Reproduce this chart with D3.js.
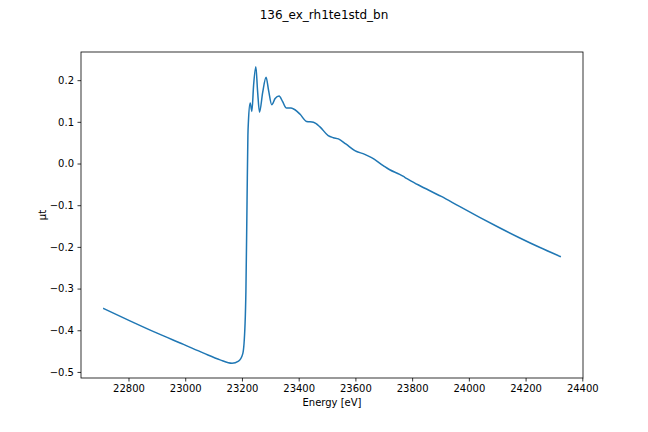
<!DOCTYPE html>
<html>
<head>
<meta charset="utf-8">
<script src="https://cdn.jsdelivr.net/npm/d3@7"></script>
<style>
  body { margin: 0; background: #fff; }
  text { font-family: "DejaVu Sans", sans-serif; }
</style>
</head>
<body>
<div class="visHolder"></div>
<script>
// energy in eV, mu*t
const energy = [22713, 22807, 22901, 22994, 23065, 23123, 23165, 23188, 23203, 23211,
  23214, 23218, 23221, 23223, 23229, 23235, 23241, 23249, 23255, 23262,
  23273, 23285, 23294, 23305, 23317, 23331, 23343, 23357, 23373, 23387,
  23405, 23428, 23452, 23475, 23504, 23522, 23540, 23566, 23598, 23633,
  23657, 23698, 23721, 23756, 23774, 23821, 23903, 23967, 24038, 24108,
  24178, 24249, 24322];
const mut = [-0.348, -0.378, -0.407, -0.434, -0.455, -0.471, -0.479, -0.474, -0.456, -0.384,
  -0.305, -0.089, 0.067, 0.103, 0.145, 0.125, 0.187, 0.232, 0.175, 0.123,
  0.170, 0.207, 0.175, 0.141, 0.156, 0.162, 0.149, 0.133, 0.133, 0.129,
  0.118, 0.101, 0.099, 0.088, 0.067, 0.062, 0.059, 0.047, 0.031, 0.022,
  0.014, -0.005, -0.015, -0.026, -0.033, -0.051, -0.079, -0.103, -0.129, -0.154,
  -0.178, -0.201, -0.223];
const xTicks = [22800, 23000, 23200, 23400, 23600, 23800, 24000, 24200, 24400];
const yTicks = [-0.5, -0.4, -0.3, -0.2, -0.1, 0.0, 0.1, 0.2];
const title = "136_ex_rh1te1std_bn";

const W = 648, H = 432;
const mLeft = 81, mRight = 583, mTop = 52, mBottom = 378;

const svg = d3.select(".visHolder")
  .append("svg")
  .attr("width", W)
  .attr("height", H);

const data = energy.map((e, i) => [e, mut[i]]);

// matplotlib style 5% margins
const xPad = (d3.max(energy) - d3.min(energy)) * 0.05;
const yPad = (d3.max(mut) - d3.min(mut)) * 0.05;
const x = d3.scaleLinear()
  .domain([d3.min(energy) - xPad, d3.max(energy) + xPad])
  .range([mLeft, mRight]);
const y = d3.scaleLinear()
  .domain([d3.min(mut) - yPad, d3.max(mut) + yPad])
  .range([mBottom, mTop]);

const xAxis = d3.axisBottom(x).tickValues(xTicks).tickSize(3.5).tickPadding(3.5)
  .tickFormat(d3.format("d"));
const yAxis = d3.axisLeft(y).tickValues(yTicks).tickSize(3.5).tickPadding(3.5)
  .tickFormat(d => d3.format(".1f")(d).replace("-", "\u2212"));

svg.append("g")
  .attr("transform", "translate(0," + mBottom + ")")
  .call(xAxis)
  .call(g => g.select(".domain").remove());

svg.append("g")
  .attr("transform", "translate(" + mLeft + ",0)")
  .call(yAxis)
  .call(g => g.select(".domain").remove());

svg.selectAll(".tick text")
  .attr("font-size", 10)
  .attr("font-family", "DejaVu Sans, sans-serif")
  .attr("fill", "#000");
svg.selectAll(".tick line").attr("stroke", "#000").attr("stroke-width", 0.8);

const line = d3.line()
  .x(d => x(d[0]))
  .y(d => y(d[1]))
  .curve(d3.curveMonotoneX);

svg.append("path")
  .datum(data)
  .attr("d", line)
  .attr("fill", "none")
  .attr("stroke", "#1f77b4")
  .attr("stroke-width", 1.5)
  .attr("stroke-linejoin", "round")
  .attr("stroke-linecap", "square");

// frame
svg.append("rect")
  .attr("x", mLeft)
  .attr("y", mTop)
  .attr("width", mRight - mLeft)
  .attr("height", mBottom - mTop)
  .attr("fill", "none")
  .attr("stroke", "#000")
  .attr("stroke-width", 0.8);

svg.append("text")
  .attr("x", (mLeft + mRight) / 2)
  .attr("y", 406)
  .attr("text-anchor", "middle")
  .attr("font-size", 10)
  .text("Energy [eV]");

svg.append("text")
  .attr("transform", "translate(46," + ((mTop + mBottom) / 2) + ") rotate(-90)")
  .attr("text-anchor", "middle")
  .attr("font-size", 10)
  .text("μt");

svg.append("text")
  .attr("x", W / 2)
  .attr("y", 19)
  .attr("text-anchor", "middle")
  .attr("font-size", 12)
  .text(title);
</script>
</body>
</html>
